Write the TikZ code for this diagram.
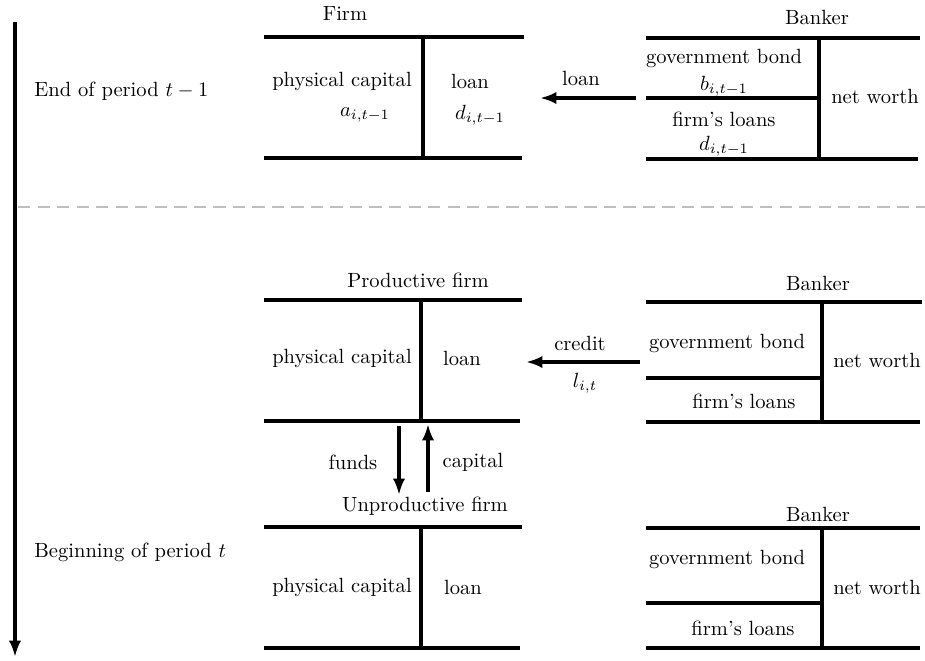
\documentclass[tikz,border=0pt]{standalone}
\usetikzlibrary{arrows.meta}
\begin{document}
\begin{tikzpicture}[x=0.4865pt,y=-0.4865pt,
    sheet/.style={line width=1.6pt},
    flow/.style={line width=1.6pt,-{Latex[length=8pt,width=6pt]}},
    lab/.style={inner sep=0pt}]
    \useasboundingbox (0,0) rectangle (925,660);
    % Tempo
    \coordinate (tstart) at (15,22);
    \coordinate (tend) at (15,657);
    \draw [flow] (tstart) -- (tend);
    \node [lab,anchor=west] (endper) at (34,91) {End of period $t-1$};
    \node [lab,anchor=west] (beginper) at (34,552) {Beginning of period $t$};
    \coordinate (sepl) at (18,207);
    \coordinate (sepr) at (925,207);
    \draw [gray!50,line width=1pt,dash pattern=on 6pt off 3.5pt] (sepl) -- (sepr);
    % Firm, t-1
    \node [lab] (firm) at (345,14) {Firm};
    \draw [sheet] (264,37) -- (524,37);
    \draw [sheet] (264,158) -- (522,158);
    \draw [sheet] (423,39) -- (423,158);
    \node [lab] (fcap) at (342,81) {physical capital};
    \node [lab] (fa) at (365,115) {$a_{i,t-1}$};
    \node [lab] (floan) at (470,81) {loan};
    \node [lab] (fd) at (480,115) {$d_{i,t-1}$};
    % Banker, t-1
    \node [lab] (bank) at (817,17) {Banker};
    \draw [sheet] (646,38) -- (920,38);
    \draw [sheet] (646,98) -- (819,98);
    \draw [sheet] (646,159) -- (918,159);
    \draw [sheet] (819,40) -- (819,159);
    \node [lab] (bgov) at (724,58) {government bond};
    \node [lab] (bb) at (724,86) {$b_{i,t-1}$};
    \node [lab] (bfl) at (724,119) {firm's loans};
    \node [lab] (bd) at (724,146) {$d_{i,t-1}$};
    \node [lab] (bnw) at (875,96) {net worth};
    \coordinate (loanfrom) at (636,98);
    \coordinate (loanto) at (540,98);
    \draw [flow] (loanfrom) -- (loanto);
    \node [lab] (loanlab) at (581,78) {loan};
    % Productive firm
    \node [lab] (pfirm) at (418,280) {Productive firm};
    \draw [sheet] (264,300) -- (522,300);
    \draw [sheet] (264,421) -- (520,421);
    \draw [sheet] (421,302) -- (421,421);
    \node [lab] (pcap) at (342,358) {physical capital};
    \node [lab] (ploan) at (462,358) {loan};
    % Banker, t (1)
    \node [lab] (pbank) at (818,283) {Banker};
    \draw [sheet] (646,302) -- (922,302);
    \draw [sheet] (646,378) -- (822,378);
    \draw [sheet] (646,422) -- (920,422);
    \draw [sheet] (822,304) -- (822,422);
    \node [lab] (pgov) at (727,343) {government bond};
    \node [lab] (pfl) at (744,401) {firm's loans};
    \node [lab] (pnw) at (877,360) {net worth};
    \coordinate (credfrom) at (640,362);
    \coordinate (credto) at (526,362);
    \draw [flow] (credfrom) -- (credto);
    \node [lab] (credlab) at (580,343) {credit};
    \node [lab] (credl) at (585,383) {$l_{i,t}$};
    % Flussi tra le imprese
    \coordinate (fundsfrom) at (399,426);
    \coordinate (fundsto) at (399,495);
    \coordinate (capfrom) at (428,492);
    \coordinate (capto) at (428,424);
    \draw [flow] (fundsfrom) -- (fundsto);
    \draw [flow] (capfrom) -- (capto);
    \node [lab] (fundslab) at (353,462) {funds};
    \node [lab] (caplab) at (473,462) {capital};
    % Unproductive firm
    \node [lab] (ufirm) at (425,506) {Unproductive firm};
    \draw [sheet] (264,527) -- (522,527);
    \draw [sheet] (264,648) -- (520,648);
    \draw [sheet] (421,529) -- (421,648);
    \node [lab] (ucap) at (342,587) {physical capital};
    \node [lab] (uloan) at (463,587) {loan};
    % Banker, t (2)
    \node [lab] (ubank) at (818,514) {Banker};
    \draw [sheet] (646,528) -- (920,528);
    \draw [sheet] (646,603) -- (822,603);
    \draw [sheet] (646,648) -- (920,648);
    \draw [sheet] (822,530) -- (822,648);
    \node [lab] (ugov) at (727,559) {government bond};
    \node [lab] (ufl) at (743,628) {firm's loans};
    \node [lab] (unw) at (877,587) {net worth};
\end{tikzpicture}
\end{document}
